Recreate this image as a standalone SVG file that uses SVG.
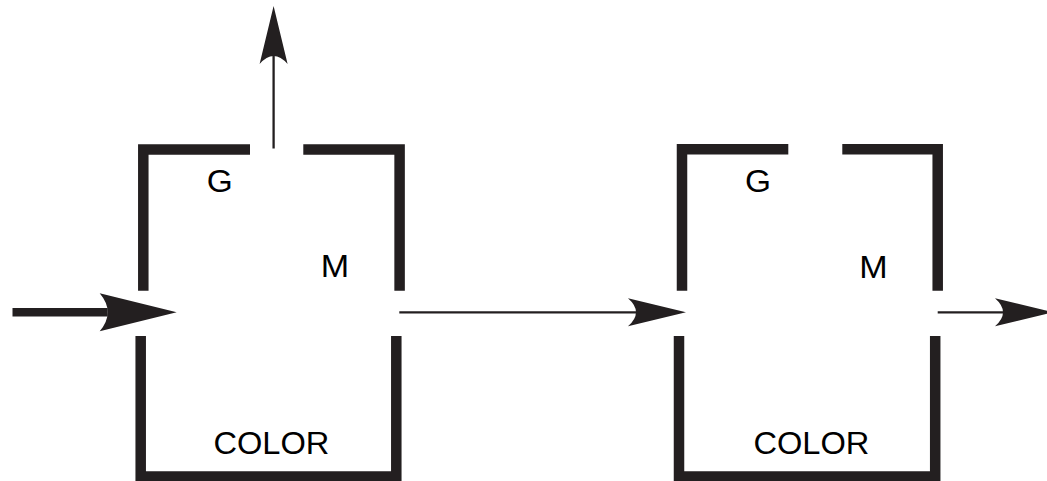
<svg xmlns="http://www.w3.org/2000/svg" width="1047" height="481" viewBox="0 0 1047 481">
  <style>
    .wall { fill: none; stroke: #231f20; stroke-width: 10.5; stroke-linejoin: miter; stroke-linecap: butt; }
    .thin { fill: none; stroke: #231f20; stroke-width: 2.3; }
    .thick { fill: none; stroke: #231f20; stroke-width: 8.5; }
    .lbl { font-family: "Liberation Sans", Arial, Helvetica, sans-serif; font-size: 31px; fill: #000; }
    .head { fill: #231f20; stroke: none; }
  </style>
  <defs>
    <marker id="arrowS" markerUnits="userSpaceOnUse" orient="auto" refX="0" refY="0" markerWidth="80" markerHeight="40" overflow="visible">
      <path class="head" d="M50,0 L-8,-14 Q8,0 -8,14 Z"/>
    </marker>
    <marker id="arrowL" markerUnits="userSpaceOnUse" orient="auto" refX="0" refY="0" markerWidth="100" markerHeight="50" overflow="visible">
      <path class="head" d="M69,0 L-8,-19 Q8,0 -8,19 Z"/>
    </marker>
  </defs>

  <g id="box1">
    <path class="wall" d="M250,149.6 H143.3 V290.7"/>
    <path class="wall" d="M303.3,149.6 H399.6 V290.7"/>
    <path class="wall" d="M140.7,336 V476.5 H396.3 V336"/>
    <text class="lbl" x="206.7" y="192" textLength="26" lengthAdjust="spacingAndGlyphs">G</text>
    <text class="lbl" x="320.8" y="277.3" textLength="28.4" lengthAdjust="spacingAndGlyphs">M</text>
    <text class="lbl" x="213.4" y="454.3" textLength="116" lengthAdjust="spacingAndGlyphs">COLOR</text>
  </g>

  <g id="box2">
    <path class="wall" d="M788.3,149.3 H682 V290.7"/>
    <path class="wall" d="M842.3,149.3 H937.7 V290.7"/>
    <path class="wall" d="M679,336 V476.5 H935.2 V336"/>
    <text class="lbl" x="745.1" y="191.7" textLength="26" lengthAdjust="spacingAndGlyphs">G</text>
    <text class="lbl" x="859.2" y="277.7" textLength="28.4" lengthAdjust="spacingAndGlyphs">M</text>
    <text class="lbl" x="753.4" y="453.5" textLength="116" lengthAdjust="spacingAndGlyphs">COLOR</text>
  </g>

  <g id="connectors">
    <path class="thick" d="M12.5,312.3 H107.7" marker-end="url(#arrowL)"/>
    <path class="thin" d="M273.6,148.5 V56" marker-end="url(#arrowS)"/>
    <path class="thin" d="M399.3,312.3 H636" marker-end="url(#arrowS)"/>
    <path class="thin" d="M937.7,312.3 H1003" marker-end="url(#arrowS)"/>
  </g>
</svg>
